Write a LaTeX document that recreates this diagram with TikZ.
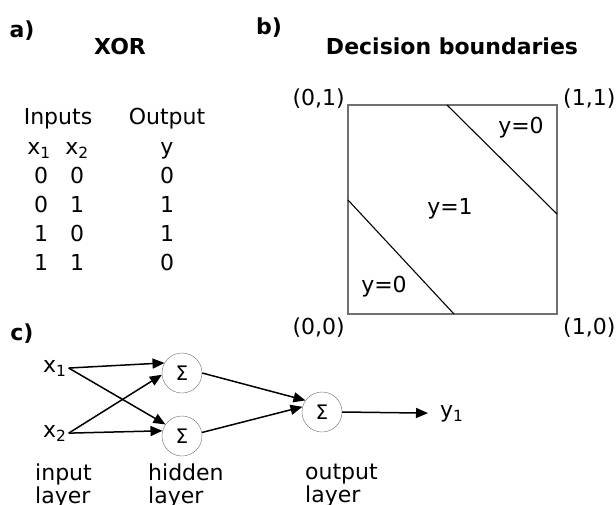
\documentclass[tikz,border=0pt]{standalone}
\usepackage{fontspec}
\setmainfont{DejaVu Sans}
\usetikzlibrary{arrows.meta,positioning}
\definecolor{frame}{HTML}{707070}
\newcommand{\labsize}{\fontsize{22}{23}\selectfont}

\begin{document}
\begin{tikzpicture}[x=1pt, y=-1pt,
  txt/.style={font=\labsize, inner sep=0pt, anchor=base},
  ttl/.style={font=\labsize\bfseries, inner sep=0pt, anchor=base},
  neuron/.style={draw=frame, circle, minimum size=40pt, inner sep=0pt, font=\fontsize{20}{22}\selectfont},
  lay/.style={font=\labsize, align=left, inner sep=0pt, anchor=north west},
  arr/.style={-{Triangle[length=12pt, width=10pt]}, line width=1.5pt}]
  \useasboundingbox (0,0) rectangle (616,504);
  % a) truth table
  \node[ttl] (pa) at (22,37) {a)};
  \node[ttl] (xor) at (120,54) {XOR};
  \node[txt] (inp) at (58,124) {Inputs};
  \node[txt] (outp) at (167,124) {Output};
  \node[txt] (hx1) at (39,154) {x\textsubscript{1}};
  \node[txt] (hx2) at (77,154) {x\textsubscript{2}};
  \node[txt] (hy) at (167,154) {y};
  \foreach \a/\b/\c [count=\i] in {0/0/0, 0/1/1, 1/0/1, 1/1/0} {
    \node[txt] (ca\i) at (41,154+29*\i) {\a};
    \node[txt] (cb\i) at (77,154+29*\i) {\b};
    \node[txt] (cy\i) at (167,154+29*\i) {\c};
  }
  % b) decision boundaries
  \node[ttl] (pb) at (269,34) {b)};
  \node[ttl] (dtitle) at (452,54) {Decision boundaries};
  \draw[frame, line width=1.5pt] (348,105) rectangle (557,314);
  \draw[line width=1.1pt] (447,105) -- (557,214);
  \draw[line width=1.1pt] (348,200) -- (454,314);
  \node[txt, anchor=base east] (c01) at (345,105) {(0,1)};
  \node[txt, anchor=base west] (c11) at (563,105) {(1,1)};
  \node[txt, anchor=base east] (c00) at (345,334) {(0,0)};
  \node[txt, anchor=base west] (c10) at (563,334) {(1,0)};
  \node[txt] (ytop) at (521,133) {y=0};
  \node[txt] (ymid) at (450,214) {y=1};
  \node[txt] (ybot) at (384,292) {y=0};
  % c) network
  \node[ttl] (pc) at (22,340) {c)};
  \node[txt, anchor=base west, inner sep=2pt] (x1) at (41,372) {x\textsubscript{1}};
  \node[txt, anchor=base west, inner sep=2pt] (x2) at (41,437) {x\textsubscript{2}};
  \node[neuron] (h1) at (182,373) {Σ};
  \node[neuron] (h2) at (182,436) {Σ};
  \node[neuron] (o) at (322,412) {Σ};
  \node[txt, anchor=base west] (y1) at (440,417) {y\textsubscript{1}};
  \draw[arr] (x1.east) -- (h1.150);
  \draw[arr] (x1.east) -- (h2.145);
  \draw[arr] (x2.east) -- (h1.185);
  \draw[arr] (x2.east) -- (h2.165);
  \draw[arr] (h1.east) -- (o.145);
  \draw[arr] (h2.10) -- (o.165);
  \draw[arr, shorten >=12pt] (o.east) -- (y1.west);
  \node[lay] (lin) at (35,464) {input\\layer};
  \node[lay] (lhid) at (148,464) {hidden\\layer};
  \node[lay] (lout) at (305,464) {output\\layer};
\end{tikzpicture}
\end{document}
